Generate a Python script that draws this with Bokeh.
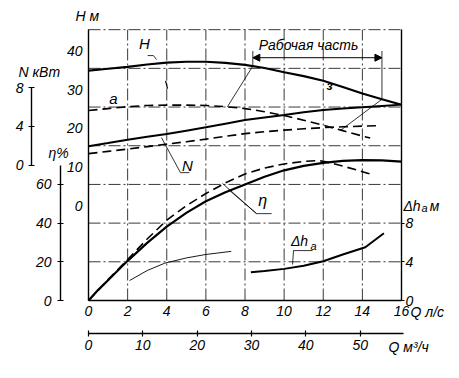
import numpy as np
from bokeh.plotting import figure
from bokeh.models import Range1d, LinearAxis, FixedTicker, Label, Arrow, NormalHead
from bokeh.embed import file_html
from bokeh.resources import INLINE

# ---------------- data ----------------
# head H (m), full impeller (solid)
q_H = [0, 1, 2, 3, 4, 5, 6, 7, 8, 9, 10, 11, 12, 13, 14, 15, 16]
H_full = [34.9, 35.4, 35.9, 36.5, 37.0, 37.2, 37.2, 36.9, 36.4, 35.6, 34.5, 33.5, 32.3, 30.7, 29.0, 27.5, 26.1]
# head H (m), curve "a" (dashed)
q_a = [0, 1, 2, 3, 4, 5, 6, 7, 8, 9, 10, 11, 12, 13, 14, 14.4]
H_a = [24.6, 25.1, 25.6, 25.9, 26.0, 26.0, 25.9, 25.6, 25.1, 24.3, 23.3, 22.1, 20.8, 19.4, 18.0, 17.5]
# power N (kW)
q_N = [0, 1, 2, 3, 4, 5, 6, 7, 8, 9, 10, 11, 12, 13, 14, 15, 16]
N_full = [1.94, 2.28, 2.63, 2.93, 3.22, 3.56, 3.90, 4.28, 4.65, 4.93, 5.18, 5.45, 5.70, 5.86, 5.99, 6.12, 6.25]
q_Na = [0, 1, 2, 3, 4, 5, 6, 7, 8, 9, 10, 11, 12, 13, 14, 14.7]
N_a = [1.18, 1.42, 1.65, 1.91, 2.17, 2.42, 2.68, 2.97, 3.25, 3.45, 3.61, 3.75, 3.87, 3.96, 4.03, 4.06]
# efficiency eta (%)
q_eta = [0, 0.5, 1, 2, 3, 4, 5, 6, 7, 8, 9, 10, 11, 12, 13, 14, 15, 16]
eta_full = [0, 5.5, 10.5, 20.5, 29.8, 38.2, 45.3, 51.3, 56.0, 60.0, 64.0, 67.3, 69.6, 71.1, 72.2, 72.6, 72.4, 71.8]
q_eta_a = [0, 1, 2, 3, 4, 5, 6, 7, 8, 9, 10, 11, 11.7, 12, 13, 14, 14.4]
eta_a = [0, 10.8, 21.2, 31.8, 41.5, 49.0, 55.3, 60.8, 65.4, 68.5, 70.6, 71.9, 72.3, 72.0, 69.5, 66.6, 65.4]
q_eta_thin = [2.1, 3.0, 3.9, 5.0, 6.0, 7.3]
eta_thin = [10.3, 15.5, 19.3, 22.0, 23.8, 25.4]
# permissible cavitation margin dh (m)
q_dh = [8.3, 9, 10, 11, 12, 13, 14.15, 15.1]
dh = [2.92, 3.05, 3.27, 3.60, 4.06, 4.75, 5.51, 6.95]
# working part of the curve
work_q = [8.4, 15.0]
link_q_a = [7.1, 12.9]

# tick values
q_ls_ticks = [0, 2, 4, 6, 8, 10, 12, 14, 16]
q_m3h_ticks = [0, 10, 20, 30, 40, 50]
H_ticks = [0, 10, 20, 30, 40]
N_ticks = [0, 4, 8]
eta_ticks = [0, 20, 40, 60]
dh_ticks = [0, 4, 8]
grid_q = [2, 4, 6, 8, 10, 12, 14]
grid_eta = [20, 40, 60, 80, 100, 120, 140]

FONT = "Liberation Sans"

# canvas / scale set-up (frame covers the whole canvas; axes sit at fixed places)
W, HGT = 451, 362
X0, Y0 = 88, 300            # pixel position of Q=0, eta=0
PX_Q = 313 / 16.0           # px per l/s
PX_ETA = 272 / 140.6        # px per %
x_lo, x_hi = -X0 / PX_Q, (W - X0) / PX_Q
y_lo, y_hi = -(HGT - Y0) / PX_ETA, Y0 / PX_ETA

p = figure(width=W, height=HGT, x_range=Range1d(x_lo, x_hi), y_range=Range1d(y_lo, y_hi),
           x_axis_location=None, y_axis_location=None, title=None,
           toolbar_location=None, output_backend="svg")
p.min_border = 0
p.outline_line_color = None
p.background_fill_color = "white"
p.border_fill_color = "white"
p.xgrid.visible = False
p.ygrid.visible = False

p.extra_y_ranges = {
    "H": Range1d((y_lo - 49) / 2, (y_hi - 49) / 2),
    "N": Range1d((y_lo - 70) / 5, (y_hi - 70) / 5),
    "dh": Range1d(y_lo / 5, y_hi / 5),
}
p.extra_x_ranges = {"m3h": Range1d(x_lo * 3.6, x_hi * 3.6)}

# dash-dot grid, including the dashed top edge of the chart box
grid_style = dict(line_color="#222222", line_width=0.9, line_dash="12 3 2 3")
p.segment(x0=grid_q, y0=[0] * len(grid_q), x1=grid_q, y1=[140] * len(grid_q), **grid_style)
p.segment(x0=[0] * len(grid_eta), y0=grid_eta, x1=[16] * len(grid_eta), y1=grid_eta, **grid_style)


def style(ax, tin=0, tout=0, standoff=5):
    ax.major_label_text_font = FONT
    ax.major_label_text_font_style = "italic"
    ax.major_label_text_font_size = "14px"
    ax.major_label_text_color = "black"
    ax.axis_line_color = "black"
    ax.axis_line_width = 1.4
    ax.major_tick_line_color = "black"
    ax.major_tick_line_width = 1.2
    ax.major_tick_in = tin
    ax.major_tick_out = tout
    ax.minor_tick_line_color = None
    ax.minor_tick_in = 0
    ax.minor_tick_out = 0
    ax.major_label_standoff = standoff
    return ax


# left axes: H (on the box edge), eta and N further left
ax_H = style(LinearAxis(y_range_name="H", ticker=FixedTicker(ticks=H_ticks),
                        fixed_location=0, bounds=(-24.5, 45.5)), 0, 0, 6)
ax_eta = style(LinearAxis(ticker=FixedTicker(ticks=eta_ticks), fixed_location=(60 - X0) / PX_Q,
                          bounds=(0, 70)), 3, 3, 6)
ax_N = style(LinearAxis(y_range_name="N", ticker=FixedTicker(ticks=N_ticks),
                        fixed_location=(31 - X0) / PX_Q, bounds=(0, 8)), 3, 3, 5)
for ax in (ax_H, ax_eta, ax_N):
    p.add_layout(ax, "left")

# bottom axes: Q l/s (box edge) and Q m3/h below it
ax_Q = style(LinearAxis(ticker=FixedTicker(ticks=q_ls_ticks), fixed_location=0,
                        bounds=(0, 16)), 0, 0, 5)
ax_Qm = style(LinearAxis(x_range_name="m3h", ticker=FixedTicker(ticks=q_m3h_ticks),
                         fixed_location=(Y0 - 333) / PX_ETA, bounds=(0, 58)), 3, 3, 3)
p.add_layout(ax_Q, "below")
p.add_layout(ax_Qm, "below")

# right axis: dh (box edge)
ax_dh = style(LinearAxis(y_range_name="dh", ticker=FixedTicker(ticks=dh_ticks),
                         fixed_location=16, bounds=(0, 28)), 0, 3, 1)
p.add_layout(ax_dh, "right")

# curves
p.line(q_H, H_full, y_range_name="H", line_width=2.2, line_color="black")
p.line(q_a, H_a, y_range_name="H", line_width=1.6, line_color="black", line_dash="9 5")
p.line(q_N, N_full, y_range_name="N", line_width=2.0, line_color="black")
p.line(q_Na, N_a, y_range_name="N", line_width=1.6, line_color="black", line_dash="9 5")
p.line(q_eta, eta_full, line_width=2.2, line_color="black")
p.line(q_eta_a, eta_a, line_width=1.6, line_color="black", line_dash="9 5")
p.line(q_eta_thin, eta_thin, line_width=0.9, line_color="black")
p.line(q_dh, dh, y_range_name="dh", line_width=2.0, line_color="black")

# working range bracket and its links to the curves
H_work = np.interp(work_q, q_H, H_full)
H_link = np.interp(link_q_a, q_a, H_a)
p.segment(x0=work_q, y0=[40.0, 40.0], x1=work_q, y1=H_work, y_range_name="H",
          line_width=0.8, line_color="black")
p.segment(x0=work_q, y0=H_work, x1=link_q_a, y1=H_link, y_range_name="H",
          line_width=0.8, line_color="black")
p.add_layout(Arrow(x_start=work_q[0], x_end=work_q[1], y_start=125.5, y_end=125.5,
                   start=NormalHead(size=7, fill_color="black", line_color="black"),
                   end=NormalHead(size=7, fill_color="black", line_color="black"),
                   line_width=1, line_color="black"))

# leader lines (in eta coordinates)
thin = dict(line_width=0.8, line_color="black")
p.line([3.02, 3.32, 3.48], [126.6, 126.6, 124.5], **thin)          # H
p.line([3.73, 4.70, 5.16], [84.2, 66.1, 66.1], **thin)             # N
p.line([7.16, 8.59, 9.36], [57.3, 44.9, 44.9], **thin)             # eta
p.line([6.85, 8.59], [60.5, 44.9], **thin)
p.line([10.43, 10.48, 11.45], [18.6, 25.8, 25.8], **thin)          # dh
p.line([3.94, 4.04], [113.6, 109.5], line_width=1.2, line_color="black")


def lab(x, y, text, size="14px", align="left", style_="italic", baseline="middle"):
    p.add_layout(Label(x=x, y=y, text=text, text_font=FONT, text_font_style=style_,
                       text_font_size=size, text_align=align, text_baseline=baseline,
                       text_color="black"))


# in-plot labels
lab(8.7, 132.0, "Рабочая часть")
lab(2.86, 132.7, "H", "15px", "center")
lab(1.28, 104.3, "a", "15px", "center")
lab(5.06, 69.7, "N", "15px", "center")
lab(8.9, 51.7, "η", "16px", "center")
lab(10.35, 30.5, "Δh", "14px")
lab(11.35, 28.2, "a", "11px")
lab(12.32, 111.0, "з", "12px", "center", "bold italic")

# axis titles
lab(-0.66, 147.2, "H м")
lab(-3.58, 118.3, "N кВт")
lab(-2.04, 76.4, "η%")
lab(16.1, 49.1, "Δh")
lab(17.02, 47.6, "a", "11px")
lab(17.45, 49.1, "м")
lab(16.46, -6.2, "Q л/с")
lab(15.34, -23.8, "Q м³/ч")

open("out.html", "w").write(file_html(p, INLINE))
